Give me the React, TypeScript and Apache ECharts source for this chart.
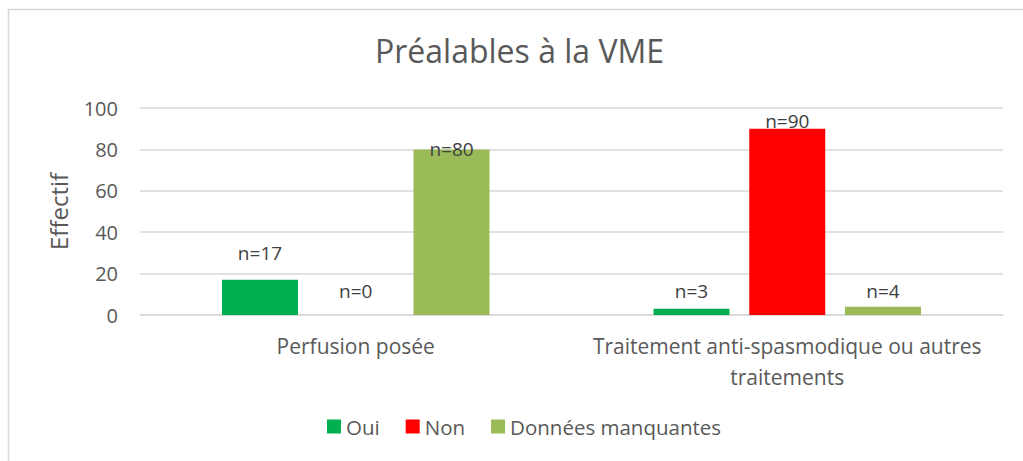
import React, { useEffect, useRef } from "react";
import * as echarts from "echarts";

const categories = ["Perfusion posée", "Traitement anti-spasmodique ou autres\ntraitements"];
const seriesNames = ["Oui", "Non", "Données manquantes"];
const ouiValues = [17, 3];
const nonValues = [0, 90];
const manquantesValues = [80, 4];
const yTicks = { min: 0, max: 100, interval: 20 };

const colors = ["#00B050", "#FF0000", "#9BBB59"];
// vertical label nudges (px) per series / category, matching the manual placement in the source
const labelNudges = [
  [-14, -5],
  [-11, 5],
  [13, -3],
];

const FONT = "'Open Sans', sans-serif";

export default function App() {
  const ref = useRef<HTMLDivElement>(null);
  useEffect(() => {
    if (!ref.current) return;
    const chart = echarts.init(ref.current, null, { renderer: "svg" });
    const values = [ouiValues, nonValues, manquantesValues];
    chart.setOption({
      animation: false,
      backgroundColor: "#ffffff",
      textStyle: { fontFamily: FONT },
      title: {
        text: "Préalables à la VME",
        left: 375,
        top: 34,
        padding: 0,
        textStyle: { fontFamily: FONT, fontSize: 32, fontWeight: "normal", color: "#595959" },
      },
      legend: {
        bottom: 19,
        left: 322,
        itemWidth: 14,
        itemHeight: 14,
        itemGap: 26,
        icon: "rect",
        textStyle: { fontFamily: FONT, fontSize: 20.5, color: "#595959" },
        data: seriesNames,
      },
      grid: { left: 140, right: 20, top: 108, bottom: 146, containLabel: false },
      xAxis: {
        type: "category",
        data: categories,
        axisLine: { show: true, lineStyle: { color: "#D9D9D9", width: 1.5 } },
        axisTick: { show: false },
        axisLabel: {
          fontFamily: FONT,
          fontSize: 21,
          color: "#595959",
          margin: 15,
          lineHeight: 31,
          interval: 0,
        },
      },
      yAxis: {
        type: "value",
        min: yTicks.min,
        max: yTicks.max,
        interval: yTicks.interval,
        name: "Effectif",
        nameLocation: "middle",
        nameGap: 70,
        nameTextStyle: { fontFamily: FONT, fontSize: 24, color: "#595959" },
        axisLine: { show: false },
        axisTick: { show: false },
        axisLabel: { fontFamily: FONT, fontSize: 20, color: "#595959", margin: 22 },
        splitLine: { lineStyle: { color: "#D9D9D9", width: 1.5 } },
      },
      graphic: [
        {
          type: "rect",
          shape: { x: 8.5, y: 9.5, width: 1100, height: 500 },
          style: { fill: "none", stroke: "#D9D9D9", lineWidth: 1.5 },
          silent: true,
          z: 0,
        },
      ],
      series: seriesNames.map((name, si) => ({
        name,
        type: "bar",
        barWidth: 76,
        barGap: "26%",
        itemStyle: { color: colors[si] },
        data: values[si].map((v, ci) => ({
          value: v,
          label: {
            show: true,
            position: "top",
            distance: 5,
            offset: [0, labelNudges[si][ci]],
            formatter: "n=" + v,
            fontFamily: FONT,
            fontSize: 19,
            lineHeight: 16,
            color: "#404040",
          },
        })),
      })),
    });
    return () => chart.dispose();
  }, []);
  return <div ref={ref} style={{ position: "fixed", left: 0, top: 0, width: 1023, height: 461 }} />;
}
